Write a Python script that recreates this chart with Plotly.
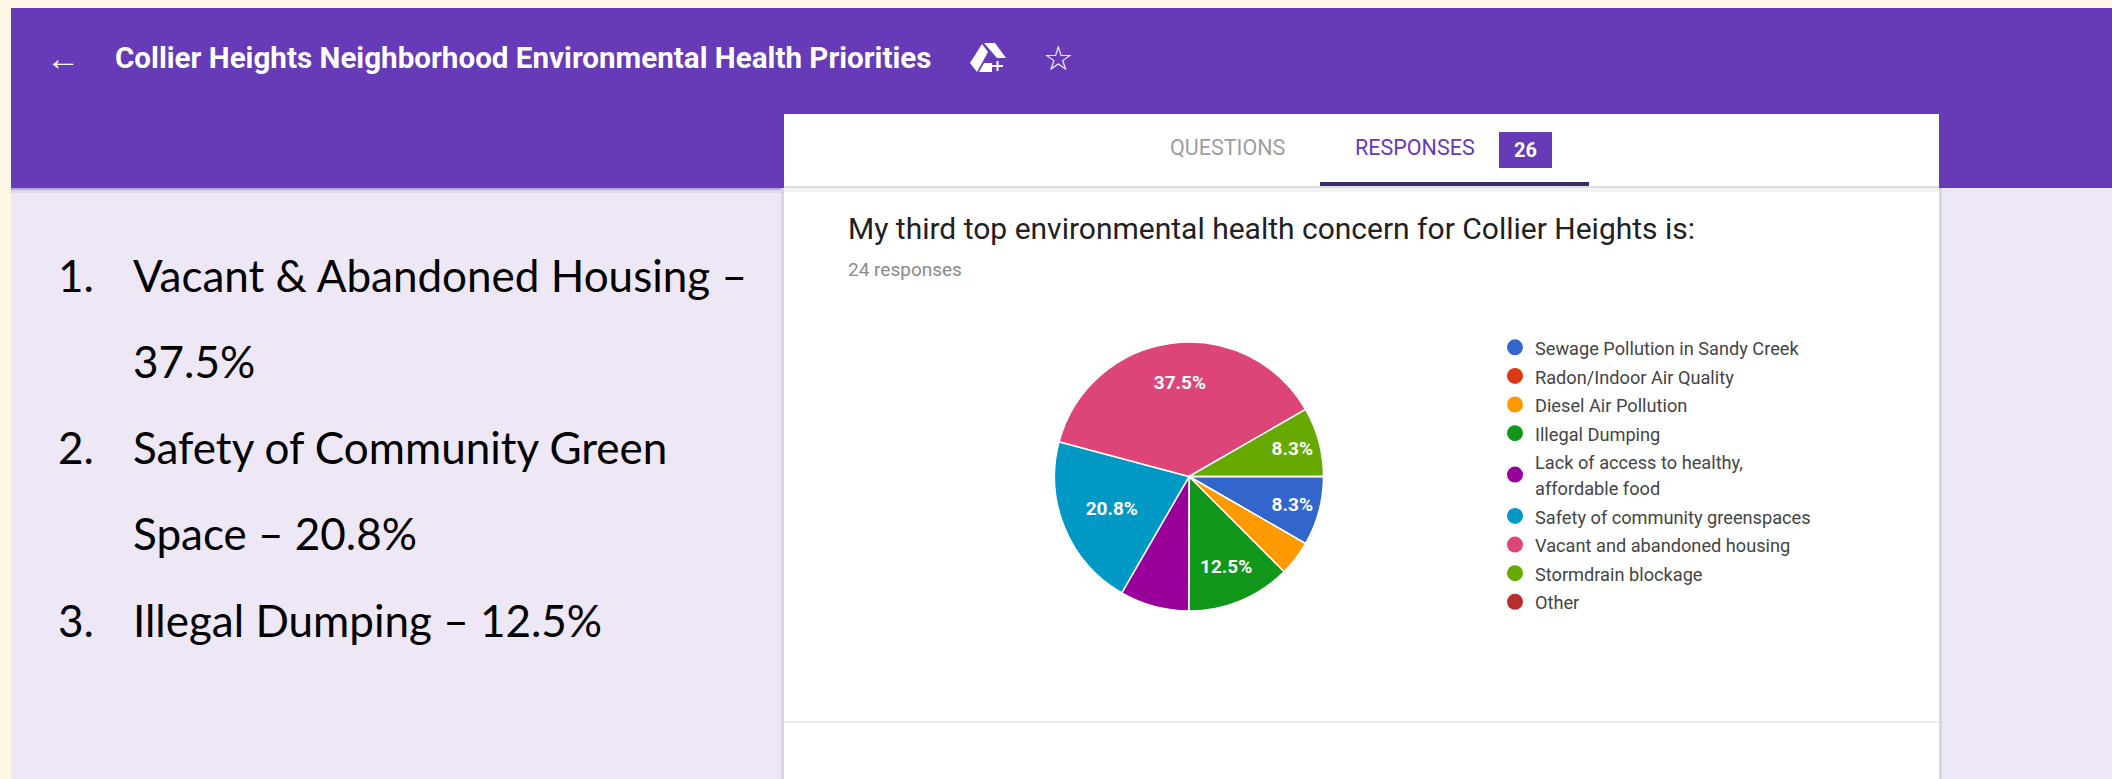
import plotly.graph_objects as go

W = 2112
H = 779

categories = [
    'Sewage Pollution in Sandy Creek',
    'Radon/Indoor Air Quality',
    'Diesel Air Pollution',
    'Illegal Dumping',
    'Lack of access to healthy,<br>affordable food',
    'Safety of community greenspaces',
    'Vacant and abandoned housing',
    'Stormdrain blockage',
    'Other',
]
shares = [8.3, 0, 4.2, 12.5, 8.3, 20.8, 37.5, 8.3, 0]
slice_labels = ['8.3%', '', '', '12.5%', '', '20.8%', '37.5%', '8.3%', '']
colors = ['#3366CC', '#DC3912', '#FF9900', '#109618', '#990099',
          '#0099C6', '#DD4477', '#66AA00', '#B82E2E']

page_title = 'Collier Heights Neighborhood Environmental Health Priorities'
question = 'My third top environmental health concern for Collier Heights is:'
responses = '24 responses'
tab_names = ['QUESTIONS', 'RESPONSES']
badge = '26'
summary_numbers = ['1.', '2.', '3.']
summary_lines = ['Vacant &amp; Abandoned Housing –', '37.5%', 'Safety of Community Green',
                 'Space – 20.8%', 'Illegal Dumping – 12.5%']


def px(x):
    return x / W


def py(y):
    return 1 - y / H


def rect(x0, y0, x1, y1, color):
    return dict(type='rect', xref='paper', yref='paper', x0=px(x0), x1=px(x1),
                y0=py(y0), y1=py(y1), fillcolor=color, line_width=0, layer='below')


def poly(points, color='white'):
    path = 'M ' + ' L '.join(f'{px(x)} {py(y)}' for x, y in points) + ' Z'
    return dict(type='path', xref='paper', yref='paper', layer='below',
                fillcolor=color, line_width=0, path=path)


def label(x, y, text, size, color, family='Roboto', anchor='left'):
    return dict(xref='paper', yref='paper', x=px(x), y=py(y), text=text, showarrow=False,
                xanchor=anchor, yanchor='middle', align=anchor,
                font=dict(family=family, size=size, color=color))


# blank lines under the biggest label push it up towards the rim, like the original
pie_text = []
for t, v in zip(slice_labels, shares):
    extra = '<br> <br> ' if v == max(shares) else ''
    pie_text.append(f'<b>{t}</b>{extra}' if t else '')

fig = go.Figure()

fig.add_trace(go.Pie(
    labels=categories,
    values=shares,
    text=pie_text,
    textinfo='text',
    textposition='inside',
    insidetextorientation='horizontal',
    textfont=dict(family='Roboto', size=19, color='white'),
    sort=False,
    direction='clockwise',
    rotation=90,
    marker=dict(colors=colors, line=dict(color='white', width=1.5)),
    domain=dict(x=[px(1054.5), px(1323.5)], y=[py(611), py(342)]),
    showlegend=False,
    hoverinfo='label+percent',
))

# pie legends only draw squares, so the round swatches come from empty traces
for name, color in zip(categories, colors):
    fig.add_trace(go.Scatter(
        x=[None], y=[None], mode='markers', name=f'<span style="font-size:18.2px">{name}</span>',
        marker=dict(color=color, size=16, symbol='circle'),
    ))

shapes = [
    rect(11, 8, W, H, '#EDE7F6'),
    rect(11, 8, W, 188, '#673AB7'),
    rect(11, 188, 784, 190, '#B8A5DC'),
    rect(11, 190, 784, 193, '#E0D9EE'),
    rect(781, 188, 784, H, '#D9D4E6'),
    rect(1939, 188, 1942, H, '#D9D4E6'),
    rect(784, 114, 1939, H, 'white'),
    rect(784, 186, 1939, 188, '#DDDDDD'),
    rect(784, 188, 1939, 192, '#F2F2F2'),
    rect(784, 721, 1939, 723, '#EEEEEE'),
    rect(1320, 182, 1589, 186, '#3B2A6B'),
    rect(1499, 132, 1552, 168, '#673AB7'),
    # drive icon in the header
    poly([(982, 44), (970, 63), (977, 72), (988, 52)]),
    poly([(984, 43), (995, 43), (1006, 58), (997, 58)]),
    poly([(979, 72), (992, 72), (992, 63), (984, 63)]),
    rect(992, 65, 1003, 67, 'white'),
    rect(996.5, 61, 998.5, 71, 'white'),
]

annotations = [
    label(63, 58, '<b>←</b>', 34, 'white', anchor='center'),
    label(113, 58, f'<b>{page_title}</b>', 29.6, 'white'),
    label(1058, 58, '☆', 34, 'white', family='DejaVu Sans', anchor='center'),
    label(1227, 148, tab_names[0], 21.5, '#9E9E9E', anchor='center'),
    label(1415, 148, tab_names[1], 21.5, '#673AB7', anchor='center'),
    label(1525, 150, f'<b>{badge}</b>', 20, 'white', anchor='center'),
    label(846, 228, question, 30, '#212121'),
    label(846, 269, responses, 19, '#8A8A8A'),
]

for y, number in zip([275, 447, 620], summary_numbers):
    annotations.append(label(56, y, number, 44, 'black', family='Lato'))
for y, line in zip([275, 361, 447, 533, 620], summary_lines):
    annotations.append(label(131, y, line, 44, 'black', family='Lato'))

fig.update_layout(
    width=W,
    height=H,
    autosize=False,
    margin=dict(l=0, r=0, t=0, b=0),
    paper_bgcolor='#FFF8E7',
    plot_bgcolor='rgba(0,0,0,0)',
    xaxis=dict(visible=False),
    yaxis=dict(visible=False),
    shapes=shapes,
    annotations=annotations,
    showlegend=True,
    legend=dict(
        x=px(1495), y=py(328), xanchor='left', yanchor='top',
        bgcolor='rgba(0,0,0,0)', itemwidth=30, itemsizing='trace',
        font=dict(family='Roboto', size=19.7, color='#444444'),
    ),
)

fig.write_html('out.html', config=dict(displayModeBar=False),
               post_script="document.body.style.margin='0';")
